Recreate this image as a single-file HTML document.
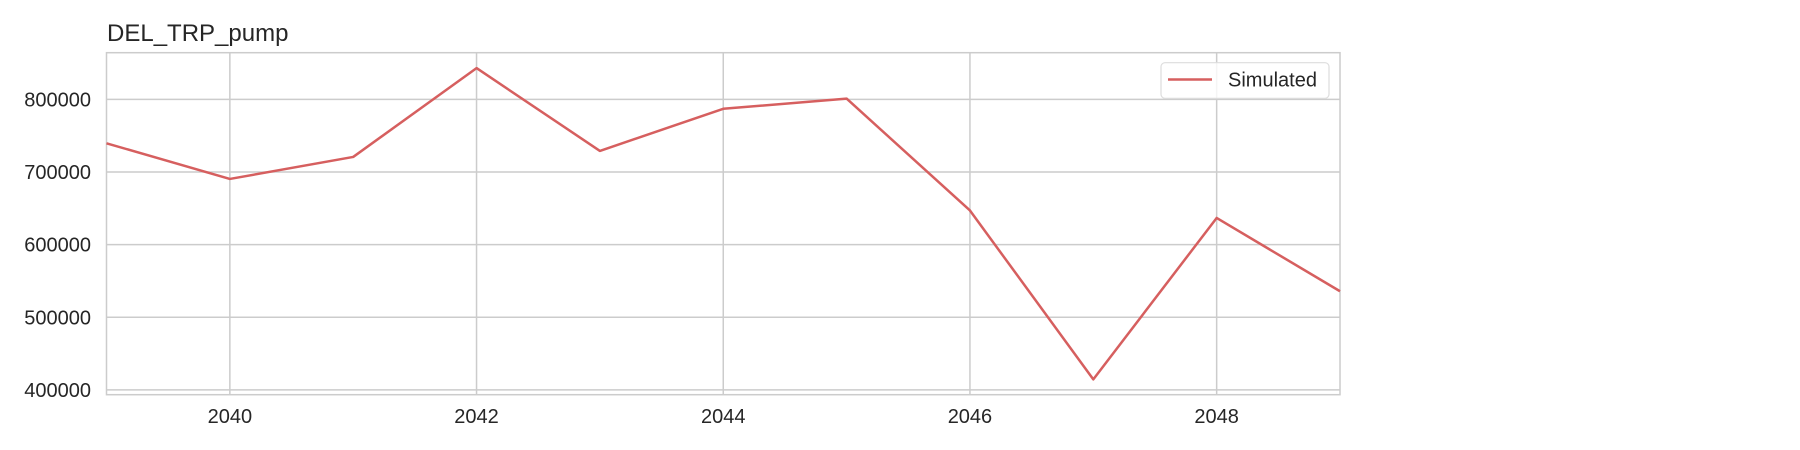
<!DOCTYPE html>
<html><head><meta charset="utf-8"><style>
body{margin:0;background:#fff;}
svg{display:block;font-family:"Liberation Sans",Arial,sans-serif;}
</style></head><body>
<svg id="chart" width="1800" height="450" viewBox="0 0 1800 450">
<text x="107" y="41" font-size="24" fill="#262626">DEL_TRP_pump</text>
<g id="grid"></g>
<g id="xticks"></g>
<g id="yticks"></g>
<rect x="106.5" y="52.7" width="1233.5" height="342" fill="none" stroke="#cccccc" stroke-width="1.5"/>
<g id="series"></g>
<g>
<rect x="1161" y="62.7" width="168" height="35.6" rx="4" fill="#fff" fill-opacity="0.8" stroke="#dddddd" stroke-width="1.2"/>
<line x1="1168" y1="79.5" x2="1212" y2="79.5" stroke="#d65f5f" stroke-width="2.5"/>
<text x="1228" y="86.5" font-size="20" fill="#262626">Simulated</text>
</g>
</svg>
<script>
const years = [2039,2040,2041,2042,2043,2044,2045,2046,2047,2048,2049];
const simulated = [739500,690400,720700,843000,729000,787000,801000,647000,414500,636700,535800];
const xTickLabels = [2040,2042,2044,2046,2048];
const yTickLabels = [400000,500000,600000,700000,800000];

const L=106.5,R=1340,T=52.7,B=394.7;
const xMin=2039,xMax=2049,yMin=393400,yMax=864200;
function sx(v){return L+(v-xMin)/(xMax-xMin)*(R-L);}
function sy(v){return B-(v-yMin)/(yMax-yMin)*(B-T);}
const NS="http://www.w3.org/2000/svg";
const grid=document.getElementById('grid'),xt=document.getElementById('xticks'),yt=document.getElementById('yticks');
xTickLabels.forEach(v=>{
  const l=document.createElementNS(NS,'line');
  l.setAttribute('x1',sx(v));l.setAttribute('x2',sx(v));l.setAttribute('y1',T);l.setAttribute('y2',B);
  l.setAttribute('stroke','#cccccc');l.setAttribute('stroke-width','1.5');
  
  
  grid.appendChild(l);
  const t=document.createElementNS(NS,'text');
  t.setAttribute('x',sx(v));t.setAttribute('y',423);t.setAttribute('text-anchor','middle');
  t.setAttribute('font-size','20');t.setAttribute('fill','#262626');t.textContent=v;
  
  
  xt.appendChild(t);
});
yTickLabels.forEach(v=>{
  const l=document.createElementNS(NS,'line');
  l.setAttribute('x1',L);l.setAttribute('x2',R);l.setAttribute('y1',sy(v));l.setAttribute('y2',sy(v));
  l.setAttribute('stroke','#cccccc');l.setAttribute('stroke-width','1.5');
  
  
  grid.appendChild(l);
  const t=document.createElementNS(NS,'text');
  t.setAttribute('x',91);t.setAttribute('y',sy(v)+7);t.setAttribute('text-anchor','end');
  t.setAttribute('font-size','20');t.setAttribute('fill','#262626');t.textContent=v;
  
  
  yt.appendChild(t);
});
const p=document.createElementNS(NS,'polyline');
p.setAttribute('points',years.map((y,i)=>sx(y)+','+sy(simulated[i])).join(' '));
p.setAttribute('fill','none');p.setAttribute('stroke','#d65f5f');p.setAttribute('stroke-width','2.5');
p.setAttribute('stroke-linejoin','round');


document.getElementById('series').appendChild(p);
</script>
</body></html>
